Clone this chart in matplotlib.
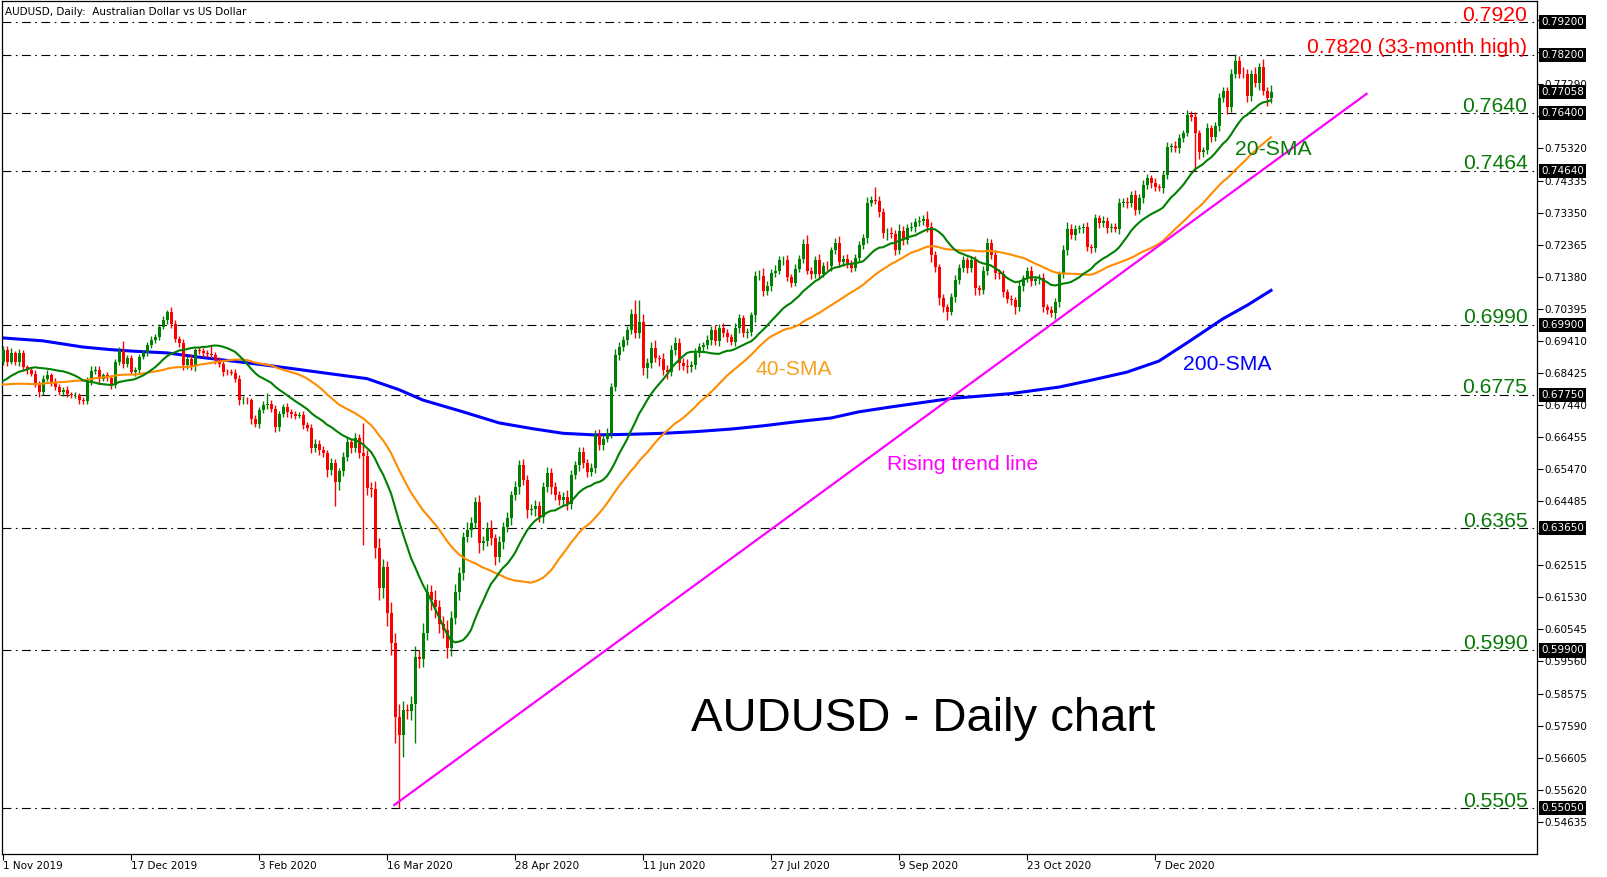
import numpy as np
import matplotlib
matplotlib.use("Agg")
from matplotlib import pyplot as plt

# closes before 1 Nov 2019, only used to start the 20/40 SMAs
pre_close = [6850, 6860, 6855, 6865, 6875, 6880, 6855, 6860, 6810, 6790,
             6770, 6760, 6790, 6760, 6755, 6760, 6750, 6700, 6720, 6750,
             6755, 6740, 6730, 6750, 6770, 6800, 6770, 6750, 6770, 6820,
             6850, 6860, 6850, 6850, 6830, 6820, 6850, 6860, 6880, 6890]

# daily closes (x 1e-4), 1 Nov 2019 .. 19 Jan 2021
close = [6914, 6877, 6903, 6877, 6903, 6860, 6851, 6840, 6810, 6784,
         6825, 6835, 6815, 6800, 6784, 6791, 6777, 6774, 6774, 6760,
         6756, 6818, 6849, 6853, 6825, 6835, 6828, 6805, 6876, 6910,
         6871, 6887, 6846, 6853, 6892, 6904, 6927, 6945, 6953, 6984,
         7004, 7030, 6994, 6948, 6935, 6866, 6886, 6863, 6912, 6910,
         6904, 6900, 6897, 6883, 6871, 6846, 6845, 6843, 6825, 6759,
         6759, 6758, 6702, 6687, 6728, 6743, 6748, 6733, 6677, 6716,
         6738, 6723, 6716, 6711, 6713, 6682, 6673, 6611, 6625, 6605,
         6595, 6543, 6567, 6507, 6540, 6585, 6630, 6612, 6642, 6596,
         6587, 6488, 6485, 6304, 6181, 6246, 6105, 6012, 5786, 5731,
         5806, 5805, 5825, 5970, 5965, 6043, 6170, 6145, 6124, 6070,
         6053, 5998, 6090, 6170, 6227, 6338, 6359, 6380, 6446, 6320,
         6325, 6365, 6334, 6276, 6322, 6368, 6396, 6466, 6492, 6559,
         6513, 6421, 6424, 6435, 6400, 6492, 6535, 6492, 6468, 6452,
         6462, 6440, 6530, 6560, 6599, 6565, 6538, 6550, 6651, 6621,
         6641, 6657, 6798, 6897, 6921, 6943, 6973, 7025, 6964, 6998,
         6857, 6872, 6918, 6887, 6885, 6851, 6845, 6912, 6934, 6872,
         6865, 6861, 6866, 6903, 6922, 6929, 6943, 6975, 6940, 6982,
         6964, 6952, 6937, 6981, 7010, 6966, 6968, 7020, 7140, 7141,
         7095, 7110, 7150, 7155, 7188, 7190, 7136, 7120, 7163, 7194,
         7240, 7157, 7147, 7188, 7147, 7172, 7170, 7219, 7243, 7182,
         7194, 7179, 7166, 7197, 7234, 7258, 7366, 7375, 7372, 7336,
         7271, 7272, 7268, 7219, 7280, 7250, 7287, 7290, 7305, 7310,
         7315, 7290, 7204, 7167, 7072, 7044, 7031, 7075, 7127, 7164,
         7188, 7164, 7188, 7102, 7098, 7157, 7243, 7204, 7150, 7147,
         7090, 7070, 7065, 7044, 7110, 7133, 7155, 7125, 7130, 7135,
         7044, 7035, 7028, 7060, 7147, 7219, 7286, 7266, 7285, 7288,
         7290, 7228, 7226, 7317, 7302, 7310, 7287, 7292, 7285, 7364,
         7368, 7363, 7388, 7342, 7380, 7420, 7441, 7425, 7413, 7410,
         7450, 7537, 7540, 7533, 7564, 7579, 7634, 7630, 7580, 7520,
         7526, 7594, 7566, 7600, 7686, 7710, 7658, 7762, 7802, 7762,
         7760, 7694, 7762, 7732, 7781, 7710, 7688, 7706]
first_open = 6877

# wick lengths above / below the body, in pips
up_wick = [12, 10, 15, 8, 12, 10, 8, 10, 12, 8,
           10, 15, 8, 12, 10, 8, 10, 8, 10, 6,
           8, 12, 15, 10, 12, 8, 10, 8, 10, 12,
           31, 10, 12, 8, 10, 8, 10, 12, 8, 10,
           12, 5, 14, 10, 8, 12, 10, 14, 8, 10,
           8, 10, 25, 10, 8, 10, 8, 10, 12, 10,
           14, 10, 8, 12, 10, 12, 34, 10, 12, 8,
           10, 12, 10, 8, 10, 14, 10, 12, 15, 10,
           12, 10, 15, 12, 10, 14, 15, 10, 15, 12,
           92, 20, 18, 25, 30, 25, 20, 35, 30, 40,
           30, 20, 25, 35, 20, 30, 25, 20, 30, 20,
           25, 30, 20, 25, 20, 15, 25, 20, 15, 20,
           15, 20, 25, 15, 20, 15, 20, 15, 18, 15,
           20, 15, 15, 18, 15, 15, 20, 15, 15, 12,
           15, 20, 15, 12, 15, 15, 12, 15, 15, 18,
           12, 15, 15, 20, 15, 12, 15, 15, 40, 67,
           25, 15, 20, 25, 12, 20, 15, 15, 20, 15,
           15, 20, 12, 15, 12, 10, 15, 12, 15, 12,
           15, 12, 10, 15, 15, 10, 12, 10, 15, 18,
           25, 15, 12, 20, 15, 12, 15, 10, 15, 12,
           15, 25, 10, 15, 20, 12, 15, 10, 15, 20,
           10, 15, 10, 12, 15, 12, 18, 12, 40, 15,
           12, 15, 20, 15, 20, 15, 12, 15, 12, 15,
           12, 25, 15, 12, 10, 12, 10, 12, 15, 12,
           15, 10, 12, 15, 10, 15, 15, 10, 15, 12,
           12, 10, 12, 10, 15, 10, 12, 15, 10, 12,
           15, 10, 12, 12, 10, 15, 20, 15, 12, 10,
           12, 15, 10, 15, 12, 15, 10, 12, 10, 15,
           12, 15, 12, 15, 12, 15, 12, 10, 15, 10,
           12, 15, 10, 15, 12, 10, 15, 12, 15, 10,
           12, 15, 10, 12, 15, 12, 10, 15, 20, 15,
           20, 15, 12, 20, 15, 25, 10, 20]
dn_wick = [10, 12, 8, 10, 12, 10, 12, 8, 10, 16,
           10, 8, 12, 10, 8, 12, 10, 8, 10, 12,
           10, 8, 12, 10, 12, 8, 10, 12, 10, 8,
           12, 10, 8, 12, 10, 8, 10, 8, 10, 8,
           8, 10, 12, 10, 12, 15, 10, 12, 15, 10,
           12, 8, 10, 12, 10, 12, 10, 8, 10, 15,
           12, 10, 15, 12, 15, 10, 12, 10, 15, 12,
           10, 15, 12, 10, 8, 12, 10, 15, 12, 15,
           12, 20, 15, 74, 25, 15, 12, 15, 12, 15,
           273, 20, 25, 30, 35, 30, 40, 35, 80, 225,
           68, 25, 30, 119, 30, 25, 20, 30, 35, 25,
           25, 30, 25, 20, 25, 20, 15, 20, 15, 30,
           20, 15, 20, 25, 15, 20, 15, 20, 15, 20,
           15, 25, 15, 20, 15, 20, 15, 20, 15, 15,
           15, 20, 15, 12, 20, 15, 15, 12, 15, 15,
           15, 12, 15, 12, 15, 12, 15, 12, 15, 15,
           20, 30, 15, 12, 20, 15, 20, 12, 15, 20,
           15, 20, 15, 10, 12, 15, 12, 15, 12, 15,
           12, 15, 10, 12, 15, 12, 15, 12, 20, 12,
           15, 12, 15, 12, 10, 15, 12, 15, 12, 10,
           15, 12, 15, 12, 15, 10, 12, 15, 12, 15,
           12, 15, 12, 10, 15, 12, 15, 12, 10, 15,
           15, 20, 12, 15, 12, 15, 12, 10, 15, 12,
           12, 15, 20, 15, 20, 15, 25, 12, 15, 12,
           12, 15, 12, 20, 15, 12, 15, 12, 20, 15,
           15, 12, 15, 20, 12, 15, 12, 15, 12, 15,
           15, 12, 15, 20, 15, 12, 15, 12, 15, 12,
           15, 12, 15, 12, 15, 12, 15, 12, 10, 15,
           12, 15, 12, 15, 12, 15, 12, 15, 12, 10,
           15, 12, 15, 12, 15, 12, 10, 15, 118, 20,
           15, 12, 15, 12, 15, 12, 20, 15, 12, 15,
           12, 20, 15, 12, 20, 15, 25, 15]

# 200-SMA at a few bars
sma200_bar = [0, 10, 20, 27, 33, 41, 49, 58, 66, 74, 83, 91, 99, 105, 115, 124,
              132, 140, 148, 157, 165, 173, 182, 190, 198, 207, 214, 222, 237,
              252, 264, 272, 281, 289, 297, 305, 311, 317]
sma200_val = [0.6950, 0.6941, 0.6922, 0.6914, 0.6909, 0.6904, 0.6891, 0.6878,
              0.6866, 0.6853, 0.6838, 0.6825, 0.6791, 0.6759, 0.6723, 0.6689,
              0.6672, 0.6657, 0.6652, 0.6654, 0.6657, 0.6662, 0.6670, 0.6680,
              0.6692, 0.6704, 0.6723, 0.6738, 0.6764, 0.6779, 0.6799, 0.6820,
              0.6845, 0.6879, 0.6943, 0.7009, 0.7050, 0.7096]

trend_x = [97.8, 340.9]
trend_y = [0.5515, 0.7700]

date_labels = ["1 Nov 2019", "17 Dec 2019", "3 Feb 2020", "16 Mar 2020",
               "28 Apr 2020", "11 Jun 2020", "27 Jul 2020", "9 Sep 2020",
               "23 Oct 2020", "7 Dec 2020"]

levels = [0.7920, 0.7820, 0.7640, 0.7464, 0.6990, 0.6775, 0.6365, 0.5990, 0.5505]
level_text = ["0.7920", "0.7820 (33-month high)", "0.7640", "0.7464", "0.6990",
              "0.6775", "0.6365", "0.5990", "0.5505"]
level_color = ["#FF0000", "#FF0000", "#0A7A0A", "#0A7A0A", "#0A7A0A",
               "#0A7A0A", "#0A7A0A", "#0A7A0A", "#0A7A0A"]

box_prices = [0.79200, 0.78200, 0.77058, 0.76400, 0.74640, 0.69900,
              0.67750, 0.63650, 0.59900, 0.55050]

# ---------------------------------------------------------------
c = np.array(close) / 1e4
o = np.concatenate([[first_open], close[:-1]]) / 1e4
hi = np.maximum(o, c) + np.array(up_wick) / 1e4
lo = np.minimum(o, c) - np.array(dn_wick) / 1e4
x = np.arange(len(c))

allc = np.concatenate([pre_close, close]) / 1e4
sma20 = np.convolve(allc, np.ones(20) / 20, "valid")[-len(c):]
sma40 = np.convolve(allc, np.ones(40) / 40, "valid")[-len(c):]

W, H = 1607, 877
fig = plt.figure(figsize=(W / 100, H / 100), dpi=100)
ax = fig.add_axes([2 / W, 23 / H, 1535 / W, 853.5 / H])
ax.set_xlim(-0.25, 383.5)
ax.set_ylim(0.53646, 0.79866)

up_col = "#008000"
dn_col = "#FF0000"

for lv in levels:
    ax.axhline(lv, color="black", lw=0.8, linestyle=(0, (8, 4, 1.5, 4)), zorder=1)

ax.plot(sma200_bar, sma200_val, color="#0000FF", lw=2.2, zorder=2)

cols = np.where(c >= o, up_col, dn_col)
ax.vlines(x, lo, hi, colors=cols, lw=1.0, zorder=3)
body = np.maximum(np.abs(c - o), 0.00012)
ax.bar(x, body, bottom=np.minimum(o, c), width=0.75, color=cols, lw=0, zorder=4)

ax.plot(x, sma40, color="#FF8C00", lw=1.5, zorder=5)
ax.plot(x, sma20, color="#008000", lw=1.5, zorder=5)
ax.plot(trend_x, trend_y, color="#FF00FF", lw=1.6, zorder=6)

font = "Liberation Sans"
for lv, s, col in zip(levels, level_text, level_color):
    ax.text(381.1, lv + 0.0005, s, color=col, fontsize=15.2, family=font,
            ha="right", va="baseline", zorder=7)

ax.text(308, 0.7511, "20-SMA", color="#0A7A0A", fontsize=15.2, family=font, zorder=7)
ax.text(188, 0.6836, "40-SMA", color="#F5A020", fontsize=15.2, family=font, zorder=7)
ax.text(295, 0.6851, "200-SMA", color="#0000FF", fontsize=15.2, family=font, zorder=7)
ax.text(221, 0.6544, "Rising trend line", color="#FF00FF", fontsize=15.2,
        family=font, zorder=7)
ax.text(172, 0.5743, "AUDUSD - Daily chart", color="black", fontsize=34,
        family=font, zorder=7)

ax.text(3 / 1535, 1 - 11 / 853.5, "AUDUSD, Daily:  Australian Dollar vs US Dollar",
        transform=ax.transAxes, fontsize=7.5, va="center", ha="left")

# right price scale; labels hidden under a price box are left blank
yt = [0.54635 + k * 0.00985 for k in range(26)]
ax.yaxis.tick_right()
ax.set_yticks(yt)
ax.set_yticklabels(["" if min(abs(v - p) for p in box_prices) < 0.0016 else "%.5f" % v
                    for v in yt])
ax.tick_params(axis="y", direction="out", length=4, width=0.8, labelsize=7.5, pad=1)

for p in box_prices:
    ax.text(1.0028, p, "%.5f" % p, transform=ax.get_yaxis_transform(),
            color="white", fontsize=7.5, va="center", ha="left", zorder=10,
            bbox=dict(boxstyle="square,pad=0.2", fc="black", ec="none"),
            clip_on=False)

# time scale
ax.set_xticks([32 * k for k in range(len(date_labels))])
ax.set_xticklabels(date_labels, ha="left")
ax.tick_params(axis="x", direction="out", length=4, width=0.8, labelsize=7.5, pad=1)

for sp in ax.spines.values():
    sp.set_linewidth(0.9)
    sp.set_color("black")

fig.savefig("out.png", dpi=100)
